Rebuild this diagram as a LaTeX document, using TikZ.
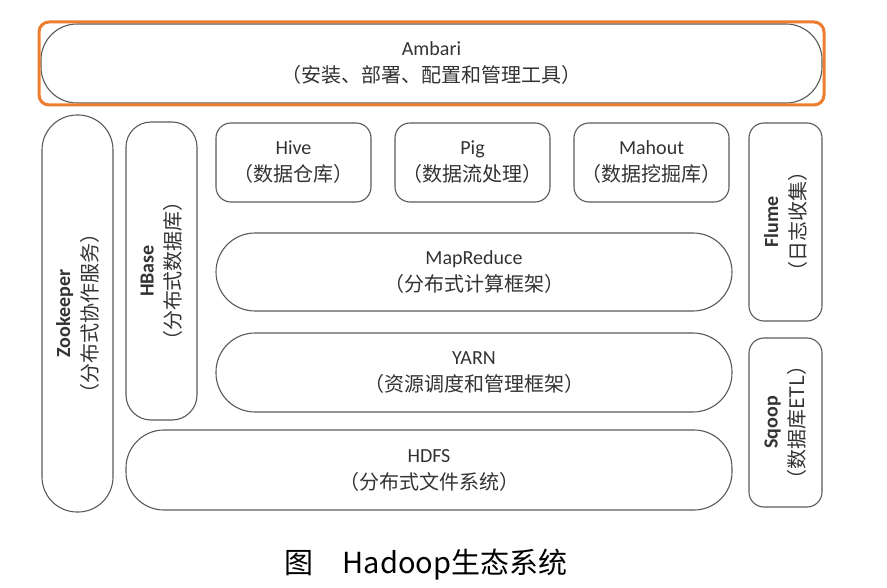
\documentclass[tikz,border=0pt]{standalone}
\usepackage{fontspec}
\setmainfont{Carlito}
\newfontfamily\cjk{Noto Sans CJK SC}
\usetikzlibrary{positioning, fit}
\definecolor{hdline}{HTML}{5A5A5A}
\definecolor{hdtext}{HTML}{333333}
\definecolor{hdorange}{HTML}{ED7D31}

\begin{document}
\begin{tikzpicture}[
  x=1pt, y=-1pt,
  every node/.style={font=\fontsize{20}{27}\selectfont, text=hdtext},
  layer/.style={rectangle, rounded corners=#1, draw=hdline, line width=1.1pt, fill=white, align=center, inner sep=0pt, outer sep=0pt},
  layer/.default=15pt,
  hilite/.style={rectangle, rounded corners=10pt, draw=hdorange, line width=3pt, inner sep=#1},
]
\useasboundingbox (0,0) rectangle (887,588);

% Ambari on top
\node[layer=36pt, minimum width=781pt, minimum height=79pt] (ambari) at (431.5,63.5) {Ambari\\\cjk （安装、部署、配置和管理工具）};
\node[hilite=2pt, fit=(ambari)] (ambarifrm) {};

% side columns
\node[layer=35pt, rotate=90, minimum width=397pt, minimum height=71pt] (zk) at (77.5,313.5) {\bfseries Zookeeper\\\mdseries\cjk （分布式协作服务）};
\node[layer=25pt, rotate=90, minimum width=298pt, minimum height=71pt] (hbase) at (161.5,271) {\bfseries HBase\\\mdseries\cjk （分布式数据库）};

% tools row
\node[layer, minimum width=155pt, minimum height=79pt] (hive) at (293.5,162.5) {Hive\\\cjk （数据仓库）};
\node[layer, minimum width=155pt, minimum height=79pt, right=24pt of hive] (pig) {Pig\\\cjk （数据流处理）};
\node[layer, minimum width=155pt, minimum height=79pt, right=24pt of pig] (mahout) {Mahout\\\cjk （数据挖掘库）};

% core stack
\node[layer=39pt, minimum width=516pt, minimum height=78pt] (mapred) at (474,272) {MapReduce\\\cjk （分布式计算框架）};
\node[layer=39pt, minimum width=516pt, minimum height=79pt, below=22pt of mapred] (yarn) {YARN\\\cjk （资源调度和管理框架）};
\node[layer=38pt, minimum width=606pt, minimum height=80pt] (hdfs) at (429,470) {HDFS\\\cjk （分布式文件系统）};

% data ingest
\node[layer, rotate=90, minimum width=198pt, minimum height=73pt] (flume) at (785.5,222) {\bfseries Flume\\\mdseries\cjk （日志收集）};
\node[layer, rotate=90, minimum width=169pt, minimum height=73pt] (sqoop) at (785.5,422.5) {\bfseries Sqoop\\\mdseries\cjk （数据库ETL）};

% caption
\node[font=\cjk\fontsize{29}{29}\selectfont, text=black] (caption) at (426,565) {图\hspace{1em}Hadoop生态系统};
\end{tikzpicture}
\end{document}
